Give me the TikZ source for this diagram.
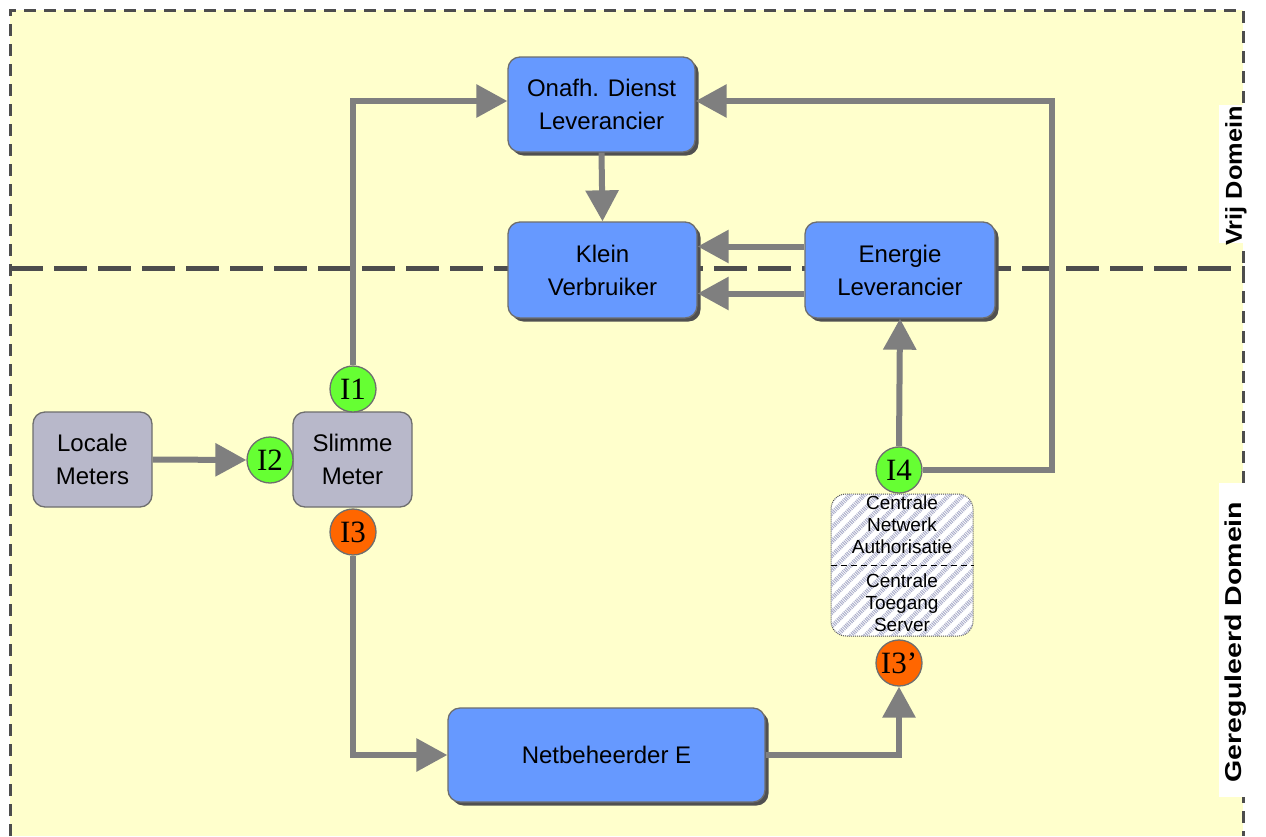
\documentclass[tikz,border=0pt]{standalone}
\usepackage{fontspec}
\usepackage{graphicx}
\setmainfont{Liberation Sans}
\newfontfamily\circfont{Liberation Serif}
\usetikzlibrary{arrows.meta,shadows,patterns.meta}
\definecolor{bgyellow}{HTML}{FFFFCC}
\definecolor{boxblue}{HTML}{6699FF}
\definecolor{boxgray}{HTML}{B8B8CA}
\definecolor{bordergray}{HTML}{6E6E6E}
\definecolor{shadowgray}{HTML}{505050}
\definecolor{arrowgray}{HTML}{7F7F7F}
\definecolor{dashgray}{HTML}{4D4D4D}
\definecolor{igreen}{HTML}{66FF33}
\definecolor{iorange}{HTML}{FF6600}
\definecolor{hatch}{HTML}{ADB0CC}
\begin{document}
\begin{tikzpicture}[x=1pt,y=-1pt,
  box/.style={draw=bordergray, line width=1.3pt, rounded corners=12pt, align=center, inner sep=0pt, font=\fontsize{24}{33}\selectfont, text=black},
  bluebox/.style={box, fill=boxblue, general shadow={fill=shadowgray, shadow xshift=3.5pt, shadow yshift=-3.5pt}},
  graybox/.style={box, fill=boxgray},
  iface/.style={circle, draw=bordergray, line width=1.3pt, minimum size=46pt, inner sep=0pt, font=\circfont\fontsize{31}{31}\selectfont},
  conn/.style={draw=arrowgray, line width=6pt, -{Triangle[length=31pt,width=32pt]}},
  domlabel/.style={rotate=90, font=\bfseries\fontsize{23}{23}\selectfont, inner sep=0pt},
  borderdash/.style={draw=dashgray, line width=3pt, dash pattern=on 12pt off 8pt},
  middash/.style={draw=dashgray, line width=5pt, dash pattern=on 33pt off 11pt},
  smalltext/.style={align=center, inner sep=0pt, font=\fontsize{19}{22}\selectfont},
]
\useasboundingbox (0,0) rectangle (1266,836);
% background
\fill[bgyellow] (10,10) rectangle (1243,836);
\draw[borderdash] (10,836) -- (10,10) -- (1243,10) -- (1243,836);
\draw[middash] (10,268) -- (1245,268);

% domain labels
\fill[white] (1219,105) rectangle (1246,243);
\fill[white] (1219,483) rectangle (1246,797);
\node[domlabel] (vrij) at (1236,176) {\scalebox{1.1}[1]{Vrij Domein}};
\node[domlabel] (gereg) at (1236,642) {\scalebox{1.24}[1]{Gereguleerd Domein}};

% boxes
\node[bluebox, minimum width=187pt, minimum height=95pt] (onafh) at (601.5,104.5) {Onafh. Dienst\\Leverancier};
\node[bluebox, minimum width=189pt, minimum height=96pt] (klein) at (602.5,270) {Klein\\Verbruiker};
\node[bluebox, minimum width=190pt, minimum height=96pt] (energie) at (900,270) {Energie\\Leverancier};
\node[graybox, minimum width=119pt, minimum height=95pt] (locale) at (92.5,459.5) {Locale\\Meters};
\node[graybox, minimum width=119pt, minimum height=95pt] (slimme) at (352.5,459.5) {Slimme\\Meter};
\node[bluebox, minimum width=317pt, minimum height=94pt] (netb) at (606.5,755) {Netbeheerder E};

% central hatched box
\node[draw=dashgray, densely dotted, line width=1pt, rounded corners=15pt, minimum width=142pt, minimum height=142pt, fill=white,
  postaction={pattern={Lines[angle=45,distance=10pt,line width=4.5pt]}, pattern color=hatch}] (cbox) at (902,565) {};
\draw[black, line width=0.9pt, dash pattern=on 6pt off 4pt] (cbox.west) -- (cbox.east);
\node[smalltext] (cna) at (902,525) {Centrale\\Netwerk\\Authorisatie};
\node[smalltext] (cts) at (902,603) {Centrale\\Toegang\\Server};

% interface circles
\node[iface, fill=igreen] (i1) at (353,389) {I1};
\node[iface, fill=igreen] (i2) at (270,460) {I2};
\node[iface, fill=iorange] (i3) at (353,532) {I3};
\node[iface, fill=igreen] (i4) at (899,470) {I4};
\node[iface, fill=iorange] (i3b) at (899,663) {I3’};

% connectors
\coordinate (rt) at (1052,101);
\draw[conn] (i1.north) |- ([yshift=3.5pt]onafh.west);
\draw[conn] (onafh.south) -- (klein.north);
\draw[conn] ([yshift=23.5pt]energie.west) -- ([yshift=23.5pt]klein.east);
\draw[conn] ([yshift=-23.5pt]energie.west) -- ([yshift=-23.5pt]klein.east);
\draw[conn] (i4.north) -- (energie.south);
\draw[conn] (i4.east) -| (rt) -- ([yshift=3.5pt]onafh.east);
\draw[conn] (locale.east) -- (i2.west);
\draw[conn] (i3.south) |- (netb.west);
\draw[conn] (netb.east) -| (i3b.south);
\end{tikzpicture}
\end{document}
